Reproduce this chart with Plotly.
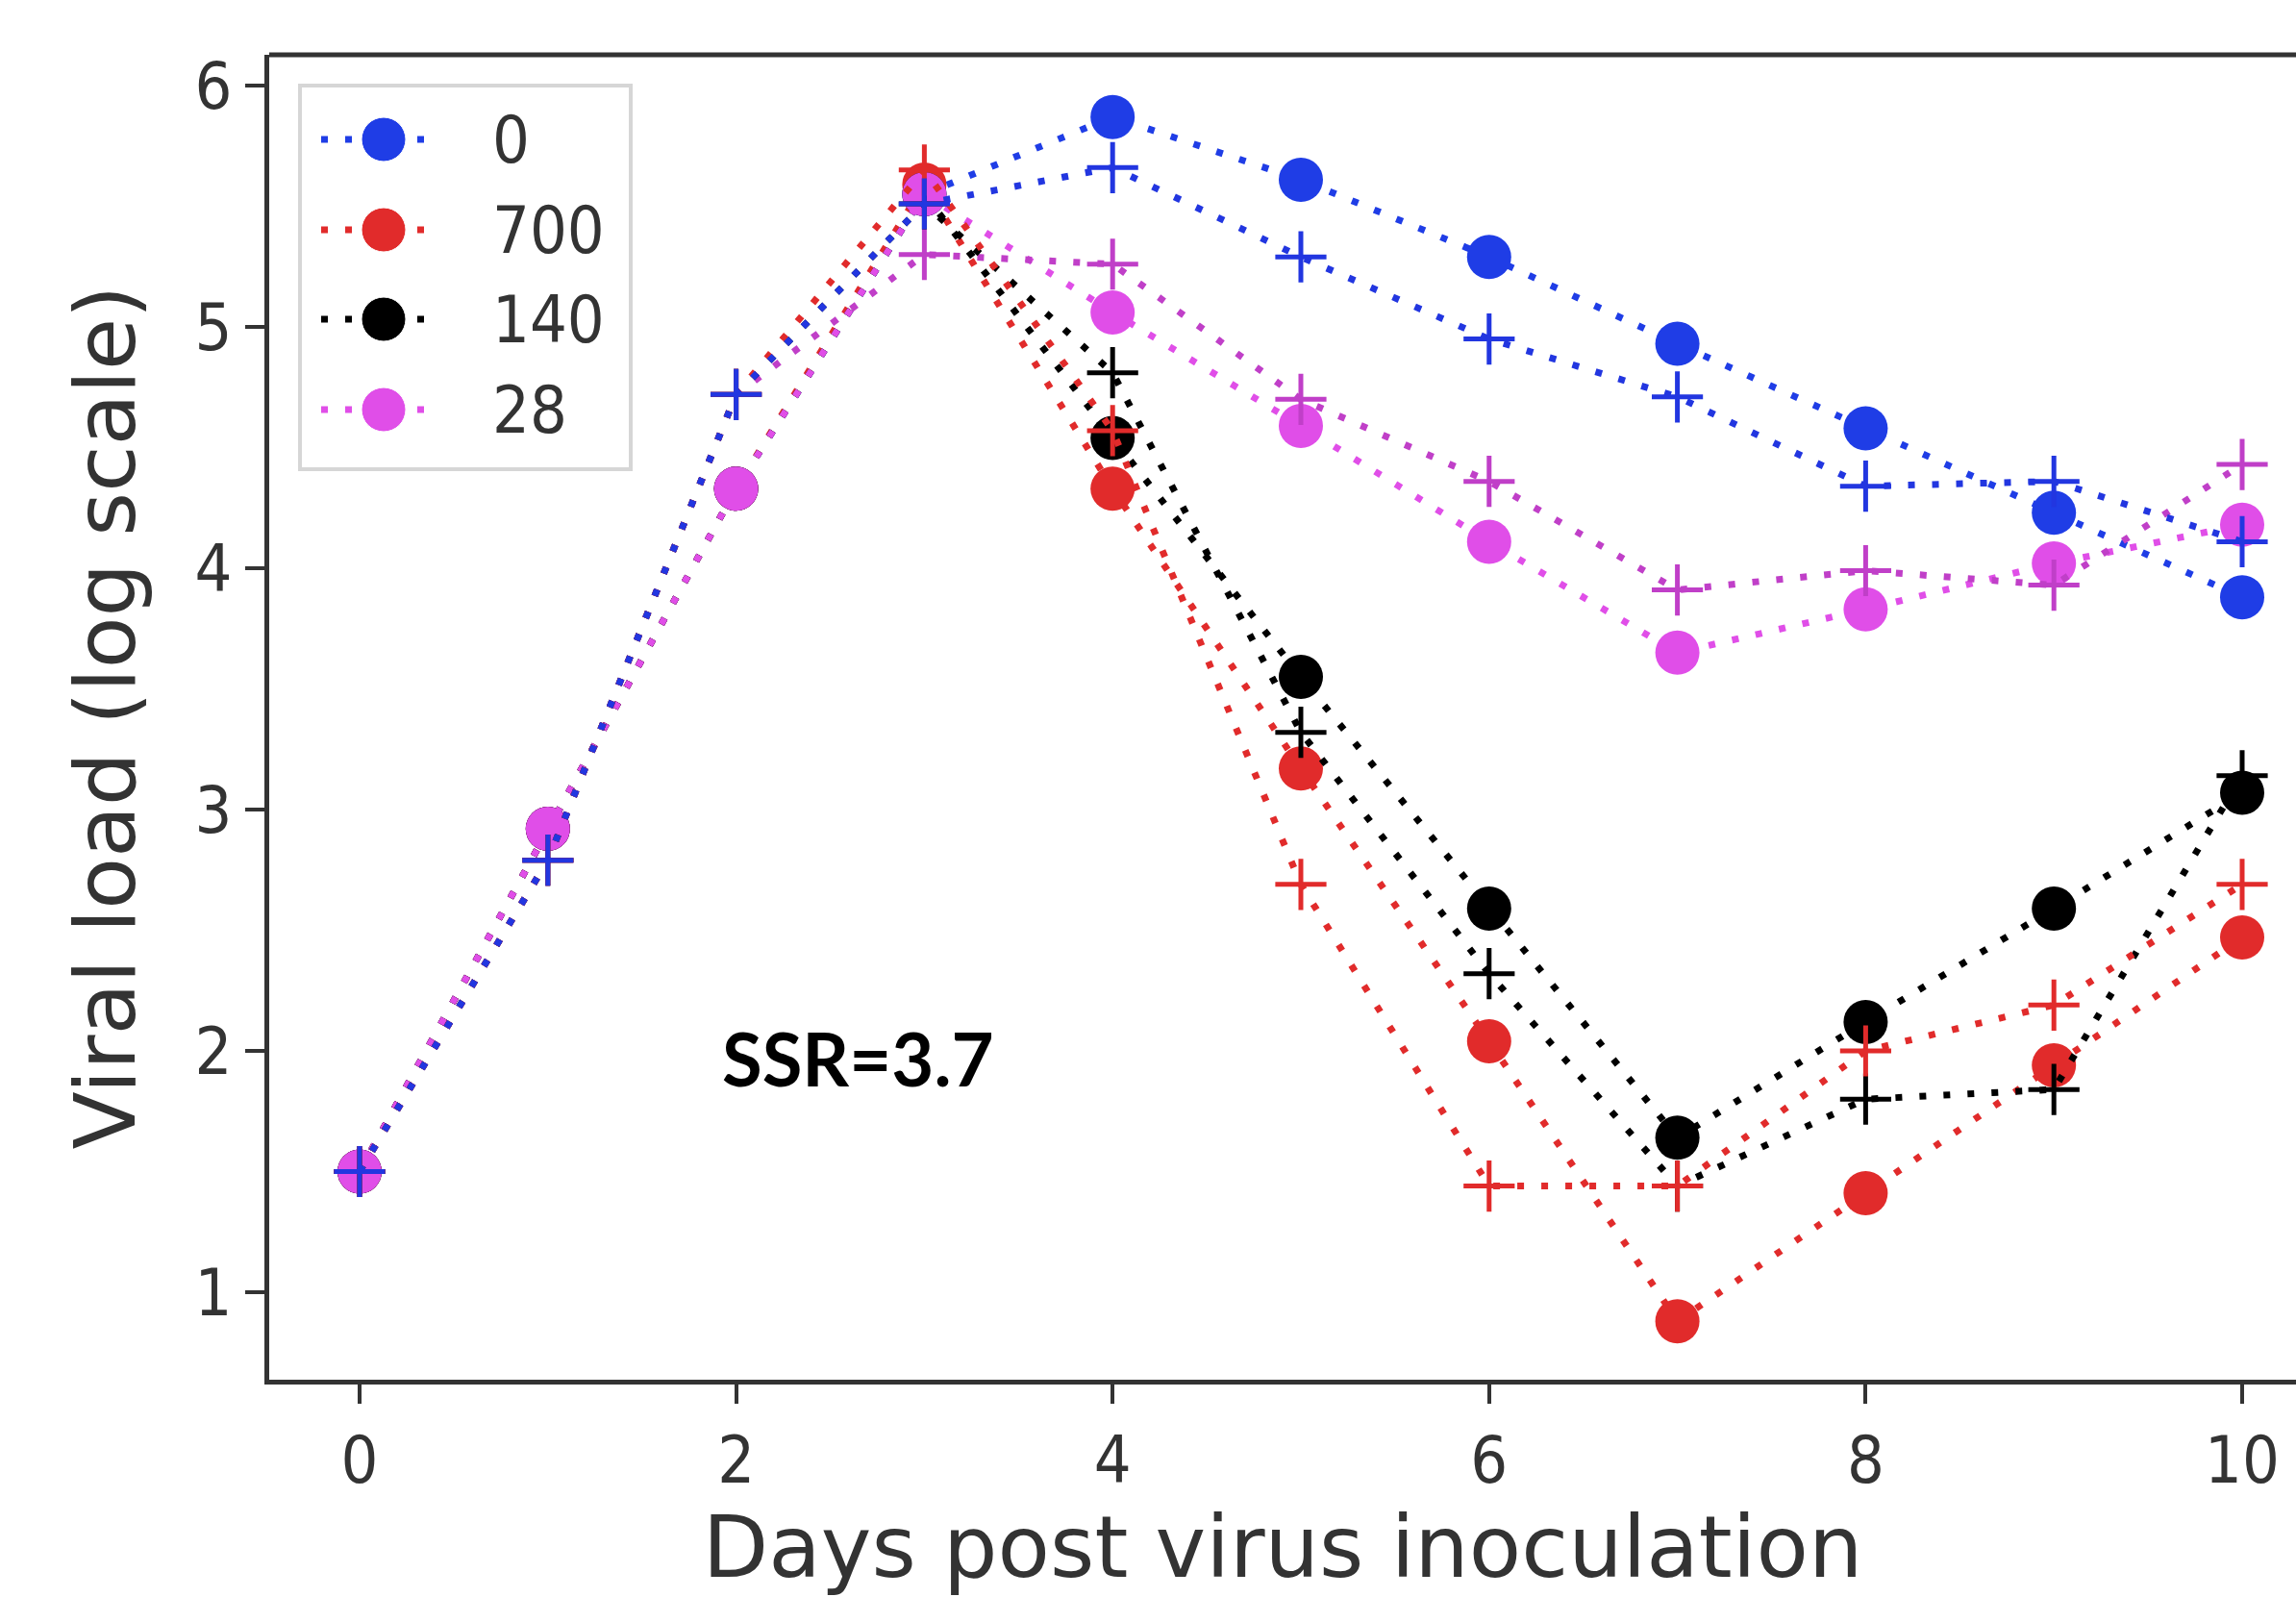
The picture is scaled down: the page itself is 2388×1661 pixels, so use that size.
import plotly.graph_objects as go

# ---------------- data ----------------
days = [0, 1, 2, 3, 4, 5, 6, 7, 8, 9, 10]
doses = ["0", "700", "140", "28"]

data_0 = [1.5, 2.92, 4.33, 5.55, 5.87, 5.61, 5.29, 4.93, 4.58, 4.23, 3.88]
model_0 = [1.5, 2.79, 4.72, 5.51, 5.66, 5.29, 4.95, 4.71, 4.34, 4.36, 4.11]
data_700 = [1.5, 2.92, 4.33, 5.59, 4.33, 3.17, 2.04, 0.88, 1.41, 1.94, 2.47]
model_700 = [1.5, 2.79, 4.72, 5.65, 4.57, 2.69, 1.44, 1.44, 2.00, 2.19, 2.69]
data_140 = [1.5, 2.92, 4.33, 5.55, 4.54, 3.55, 2.59, 1.64, 2.12, 2.59, 3.07]
model_140 = [1.5, 2.79, 4.72, 5.51, 4.81, 3.32, 2.32, 1.44, 1.80, 1.84, 3.14]
data_28 = [1.5, 2.92, 4.33, 5.55, 5.06, 4.59, 4.11, 3.65, 3.83, 4.02, 4.18]
model_28 = [1.5, 2.79, 4.72, 5.30, 5.26, 4.70, 4.36, 3.91, 3.99, 3.93, 4.43]

x_ticks = [0, 2, 4, 6, 8, 10]
y_ticks = [1, 2, 3, 4, 5, 6]
ssr_text = "SSR=3.7"

# ---------------- styles ----------------
data_colors = {"0": "#1f3de6", "700": "#e12b2b", "140": "#000000", "28": "#e04ee8"}
model_colors = {"0": "#2236e0", "700": "#e12b2b", "140": "#000000", "28": "#c03fc8"}
data_series = {"0": data_0, "700": data_700, "140": data_140, "28": data_28}
model_series = {"0": model_0, "700": model_700, "140": model_140, "28": model_28}

DOT = "7px,18px"
LW = 7
AX = "#333333"
FONT = "DejaVu Sans"
NARROW = "DejaVu Sans Condensed, DejaVu Sans"

fig = go.Figure()

# data (circles)
for d in doses:
    fig.add_trace(go.Scatter(
        x=days, y=data_series[d], mode="lines+markers", name=d,
        line=dict(color=data_colors[d], width=LW, dash=DOT),
        marker=dict(symbol="circle", size=46, color=data_colors[d], opacity=1),
        showlegend=False,
    ))

# model (plus)
for d in ["28", "140", "700", "0"]:
    fig.add_trace(go.Scatter(
        x=days, y=model_series[d], mode="lines+markers", name=d + " model",
        line=dict(color=model_colors[d], width=LW, dash=DOT),
        marker=dict(symbol="cross-thin", size=38, color=model_colors[d],
                    line=dict(color=model_colors[d], width=5)),
        showlegend=False,
    ))

# ---------------- legend (drawn on overlay pixel axes) ----------------
leg_rows = [145, 239, 332, 426]
for d, ry in zip(doses, leg_rows):
    fig.add_trace(go.Scatter(
        x=[334, 399, 446], y=[ry, ry, ry], xaxis="x2", yaxis="y2",
        mode="lines+markers",
        line=dict(color=data_colors[d], width=LW, dash=DOT),
        marker=dict(symbol="circle", size=[0, 46, 0], color=data_colors[d], opacity=1),
        showlegend=False, hoverinfo="skip",
    ))
    fig.add_annotation(x=510, y=ry, xref="x2", yref="y2", text=d,
                       showarrow=False, xanchor="left", yanchor="middle",
                       font=dict(family=NARROW, size=68, color=AX))

fig.add_shape(type="rect", xref="x2", yref="y2", x0=312, x1=656, y0=89, y1=488,
              line=dict(color="#d6d6d6", width=4), fillcolor="rgba(0,0,0,0)",
              layer="below")

# top spine
fig.add_shape(type="line", xref="paper", yref="paper", x0=0, x1=1, y0=1, y1=1,
              line=dict(color=AX, width=5))

# SSR annotation
fig.add_annotation(x=2.65, y=1.97, xref="x", yref="y", text="<b>%s</b>" % ssr_text,
                   showarrow=False, xanchor="center", yanchor="middle",
                   font=dict(family="Lato", size=76, color="#000000"))

fig.update_layout(
    width=2388, height=1661,
    margin=dict(l=280, r=0, t=57, b=226),
    paper_bgcolor="white", plot_bgcolor="white",
    font=dict(family=FONT, color=AX),
    xaxis=dict(
        range=[-0.48, 10.286], tickvals=x_ticks, ticks="outside", ticklen=20,
        tickwidth=4, tickcolor=AX, showline=True, linewidth=5, linecolor=AX,
        showgrid=False, zeroline=False,
        tickfont=dict(family=NARROW, size=68, color=AX),
        title=dict(text="Days post virus inoculation", font=dict(size=89, color=AX), standoff=30),
    ),
    yaxis=dict(
        range=[0.6375, 6.1275], tickvals=y_ticks, ticks="outside", ticklen=20,
        tickwidth=4, tickcolor=AX, showline=True, linewidth=5, linecolor=AX,
        showgrid=False, zeroline=False,
        tickfont=dict(family=NARROW, size=68, color=AX),
        title=dict(text="Viral load (log scale)", font=dict(size=88, color=AX), standoff=34),
    ),
    xaxis2=dict(overlaying="x", range=[280, 2388], visible=False),
    yaxis2=dict(overlaying="y", range=[1435, 57], visible=False),
    showlegend=False,
)

fig.write_html("out.html", config={"displayModeBar": False},
               post_script="document.body.style.margin='0';")
